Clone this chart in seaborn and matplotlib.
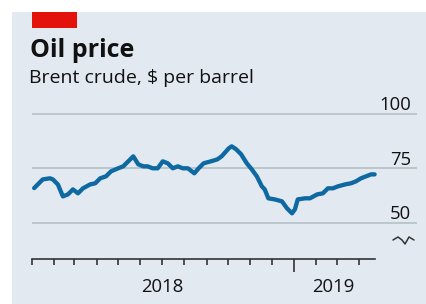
import matplotlib
matplotlib.use("Agg")
import matplotlib.pyplot as plt
import matplotlib.dates as mdates
import matplotlib.ticker as mticker
import matplotlib.transforms as mtransforms
from matplotlib.patches import Rectangle
from matplotlib.lines import Line2D
import pandas as pd
import seaborn as sns

# ---- data ----
dates = ["2018-01-04", "2018-01-16", "2018-01-26", "2018-01-30", "2018-02-06",
         "2018-02-13", "2018-02-20", "2018-02-27", "2018-03-06", "2018-03-13",
         "2018-03-23", "2018-03-30", "2018-04-06", "2018-04-14", "2018-04-21",
         "2018-05-01", "2018-05-08", "2018-05-15", "2018-05-22", "2018-05-29",
         "2018-06-05", "2018-06-11", "2018-06-18", "2018-06-25", "2018-07-02",
         "2018-07-09", "2018-07-16", "2018-07-23", "2018-07-30", "2018-08-06",
         "2018-08-15", "2018-08-21", "2018-08-28", "2018-09-07", "2018-09-16",
         "2018-09-22", "2018-10-02", "2018-10-06", "2018-10-12", "2018-10-19",
         "2018-10-27", "2018-11-03", "2018-11-10", "2018-11-17", "2018-11-21",
         "2018-11-26", "2018-12-05", "2018-12-15", "2018-12-22", "2018-12-29",
         "2019-01-02", "2019-01-06", "2019-01-16", "2019-01-23", "2019-02-02",
         "2019-02-10", "2019-02-17", "2019-02-24", "2019-03-03", "2019-03-13",
         "2019-03-21", "2019-03-28", "2019-04-04", "2019-04-11", "2019-04-18",
         "2019-04-23"]
prices = [65.9, 69.9, 70.4, 69.9, 67.6,
          62.1, 63.0, 65.3, 63.5, 65.8,
          67.6, 68.1, 70.4, 71.3, 73.6,
          75.0, 75.9, 78.2, 80.5, 76.8,
          75.9, 75.9, 75.0, 75.0, 78.2,
          77.3, 75.0, 75.9, 75.0, 75.0,
          72.7, 75.0, 77.3, 78.2, 79.1,
          80.5, 84.2, 85.1, 83.8, 81.5,
          77.3, 74.5, 71.3, 66.7, 65.3,
          61.2, 60.7, 59.8, 56.6, 54.3,
          56.1, 60.7, 61.2, 61.2, 63.0,
          63.5, 65.8, 65.8, 66.7, 67.6,
          68.1, 69.0, 70.4, 71.3, 72.2,
          72.2]
y_ticks = [50, 75, 100]
year_labels = ["2018", "2019"]
year_label_pos = ["2018-07-01", "2019-02-24"]

title = "Oil price"
subtitle = "Brent crude, $ per barrel"

df = pd.DataFrame({"date": pd.to_datetime(dates), "price": prices})

# ---- style ----
sns.set_style("white")
plt.rcParams["font.family"] = ["Open Sans", "DejaVu Sans"]

W, H = 426, 304
fig = plt.figure(figsize=(W / 100, H / 100), dpi=100)
fig.patch.set_facecolor("white")

# background panel
fig.add_artist(Rectangle((12 / W, 0), 1, 1 - 12 / H, transform=fig.transFigure,
                         facecolor="#e2e9f0", edgecolor="none", zorder=0))
# red tag
fig.add_artist(Rectangle((32 / W, 1 - 28 / H), 45 / W, 16 / H, transform=fig.transFigure,
                         facecolor="#e3120b", edgecolor="none", zorder=1))

fig.text(30 / W, 1 - 57 / H, title, fontsize=18, fontweight="bold", color="#111111",
         ha="left", va="baseline")
fig.text(29 / W, 1 - 83 / H, subtitle, fontsize=14, color="#111111",
         ha="left", va="baseline")

ax = fig.add_axes([32 / W, 1 - 259 / H, (417 - 32) / W, (259 - 100) / H])
ax.set_facecolor("none")

sns.lineplot(data=df, x="date", y="price", ax=ax, color="#0e68a1", linewidth=3.1,
             solid_capstyle="round", solid_joinstyle="round", zorder=3)

start = pd.Timestamp("2018-01-01")
ax.set_xlim(start, start + pd.Timedelta(days=536))
ax.set_ylim(33.3, 106.4)

# grid
ax.set_yticks(y_ticks)
ax.yaxis.grid(True, color="#b5bfc7", linewidth=1.2)
ax.xaxis.grid(False)
ax.tick_params(axis="y", left=False, right=False, labelleft=False, labelright=False)

# y labels on the right, above grid lines
lab_tr = mtransforms.offset_copy(
    mtransforms.blended_transform_factory(ax.transAxes, ax.transData),
    fig=fig, y=3.5, units="dots")
for v in y_ticks:
    ax.text((411 - 32) / 385, v, str(v), transform=lab_tr, ha="right", va="baseline",
            fontsize=13.3, color="#111111")

# x axis
for s in ["top", "right", "left"]:
    ax.spines[s].set_visible(False)
ax.spines["bottom"].set_color("#333333")
ax.spines["bottom"].set_linewidth(1.2)
ax.spines["bottom"].set_bounds(mdates.date2num(start), mdates.date2num(df["date"].iloc[-1]))

months = pd.date_range("2018-01-01", "2019-04-01", freq="MS")
ax.xaxis.set_major_locator(mticker.FixedLocator([mdates.date2num(pd.Timestamp("2019-01-01"))]))
ax.xaxis.set_minor_locator(mticker.FixedLocator(list(mdates.date2num(months))))
ax.tick_params(axis="x", which="major", bottom=True, length=9, width=1.2, color="#333333",
               direction="out", labelbottom=False)
ax.tick_params(axis="x", which="minor", bottom=True, length=4.5, width=1.2, color="#333333",
               direction="out", labelbottom=False)
ax.set_xlabel("")
ax.set_ylabel("")

for lab, pos in zip(year_labels, year_label_pos):
    ax.text(pd.Timestamp(pos), -(292 - 259) / 159, lab, transform=ax.get_xaxis_transform(),
            ha="center", va="baseline", fontsize=13.3, color="#111111")

# broken-axis squiggle
sq_x = [393, 398, 402, 405, 409, 414]
sq_y = [240, 237, 240, 244, 237, 240]
fig.add_artist(Line2D([x / W for x in sq_x], [1 - y / H for y in sq_y],
                      transform=fig.transFigure, color="#333333", linewidth=1.1))

fig.savefig("out.png", dpi=100)
